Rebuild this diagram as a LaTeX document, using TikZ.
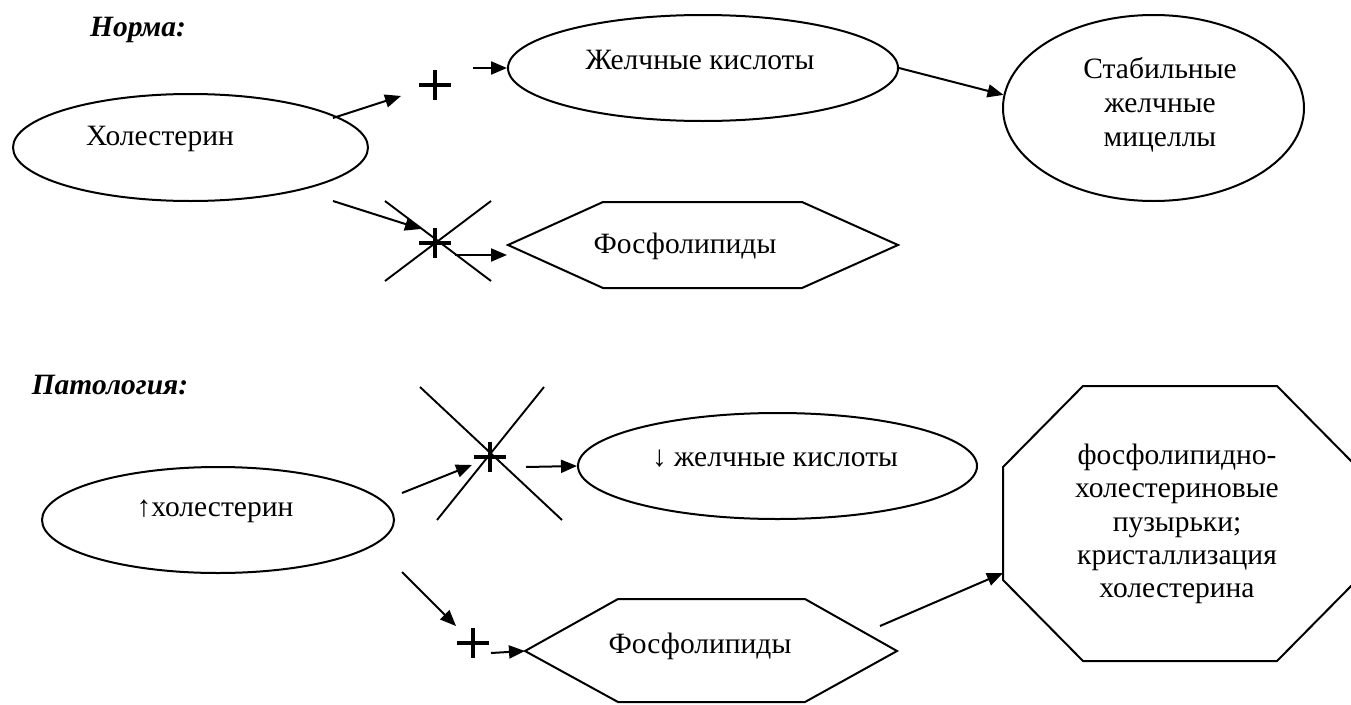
\documentclass[tikz,border=0pt]{standalone}
\usepackage{fontspec}
\setmainfont{Liberation Serif}
\usetikzlibrary{arrows.meta,shapes.geometric,calc}
\begin{document}
\begin{tikzpicture}[x=1pt,y=-1pt,
  every node/.style={font=\fontsize{29.5}{34}\selectfont, inner sep=0pt},
  ell/.style={ellipse, draw, line width=2pt},
  poly/.style={draw, line width=2pt, line join=miter},
  arr/.style={-{Triangle[length=16pt,width=13pt]}, line width=2pt},
  plusbar/.style={line width=3.6pt},
  crossline/.style={line width=1.9pt},
  head/.style={font=\fontsize{29.5}{34}\selectfont\bfseries\itshape}]
\useasboundingbox (0,0) rectangle (1351,704);
\fill[white] (0,0) rectangle (1351,704);

% ---------------- Норма ----------------
\node[head] (norma) at (138,30) {Норма:};

\node[ell, minimum width=355, minimum height=107] (hol) at (190.5,147.5) {};
\node (holt) at (160,139) {Холестерин};

\node[ell, minimum width=390, minimum height=106] (zk) at (703,68) {};
\node (zkt) at (700,60) {Желчные кислоты};

\node[ell, minimum width=301, minimum height=186] (st) at (1153.5,108) {};
\node[align=center] (stt) at (1160,105) {Стабильные\\желчные\\мицеллы};

% hexagon 1
\coordinate (h1w) at (508,245);
\draw[poly] (h1w) -- (603,202) -- (802,202) -- (898,245) -- (802,288) -- (603,288) -- cycle;
\node (h1t) at (685,246) {Фосфолипиды};

% plus 1
\coordinate (p1) at (435,85);
\draw[plusbar] ($(p1)+(-16,0)$) -- ($(p1)+(16,0)$);
\draw[plusbar] ($(p1)+(0,-15)$) -- ($(p1)+(0,15)$);

% crossed plus 2
\coordinate (p2) at (435,243);
\coordinate (x2a) at (385,201); \coordinate (x2b) at (491,281);
\coordinate (x2c) at (491,201); \coordinate (x2d) at (385,281);
\draw[crossline] (x2a) -- (x2b);
\draw[crossline] (x2c) -- (x2d);
\draw[plusbar] ($(p2)+(-16,0)$) -- ($(p2)+(16,0)$);
\draw[plusbar] ($(p2)+(0,-15)$) -- ($(p2)+(0,15)$);

% connectors (Норма)
\coordinate (a1s) at (333,118); \coordinate (a1e) at (401,96);
\draw[arr] (a1s) -- (a1e);
\coordinate (a2s) at (473,68);
\draw[arr] (a2s) -- (zk.west);
\draw[arr] (zk.east) -- (st.175);
\coordinate (a4s) at (333,201); \coordinate (a4e) at (421,229);
\draw[arr] (a4s) -- (a4e);
\coordinate (a5s) at (455,255); \coordinate (a5e) at (507,255);
\draw[arr] (a5s) -- (a5e);

% ---------------- Патология ----------------
\node[head] (pat) at (110,385) {Патология:};

\node[ell, minimum width=352, minimum height=106] (hol2) at (218,520) {};
\node (hol2t) at (215,511) {↑холестерин};

\node[ell, minimum width=399, minimum height=106] (zk2) at (777.5,466) {};
\node (zk2t) at (775,459) {↓ желчные кислоты};

% hexagon 2
\coordinate (h2w) at (525,651);
\draw[poly] (h2w) -- (618,599) -- (805,599) -- (897,651) -- (805,702) -- (618,702) -- cycle;
\node (h2t) at (700,646) {Фосфолипиды};

% octagon
\coordinate (ocw) at (1003,573);
\draw[poly] (1083,386) -- (1277,386) -- (1357,467) -- (1357,580) -- (1277,661) -- (1083,661) -- (1003,580) -- (1003,467) -- cycle;
\node[align=center, font=\fontsize{29.5}{33.3}\selectfont] (oct) at (1177,524)
  {фосфолипидно-\\холестериновые\\пузырьки;\\кристаллизация\\холестерина};

% crossed plus 3
\coordinate (p3) at (490,457);
\coordinate (x3a) at (420,387); \coordinate (x3b) at (562,520);
\coordinate (x3c) at (544,387); \coordinate (x3d) at (437,520);
\draw[crossline] (x3a) -- (x3b);
\draw[crossline] (x3c) -- (x3d);
\draw[plusbar] ($(p3)+(-16,0)$) -- ($(p3)+(16,0)$);
\draw[plusbar] ($(p3)+(0,-15)$) -- ($(p3)+(0,15)$);

% plus 4
\coordinate (p4) at (473,643);
\draw[plusbar] ($(p4)+(-16,0)$) -- ($(p4)+(16,0)$);
\draw[plusbar] ($(p4)+(0,-15)$) -- ($(p4)+(0,15)$);

% connectors (Патология)
\coordinate (b1s) at (402,493); \coordinate (b1e) at (472,465);
\draw[arr] (b1s) -- (b1e);
\coordinate (b2s) at (526,467);
\draw[arr] (b2s) -- (zk2.west);
\coordinate (b3s) at (402,572); \coordinate (b3e) at (456,626);
\draw[arr] (b3s) -- (b3e);
\coordinate (b4s) at (491,653);
\draw[arr] (b4s) -- (h2w);
\coordinate (b5s) at (880,626);
\draw[arr] (b5s) -- (ocw);
\end{tikzpicture}
\end{document}
